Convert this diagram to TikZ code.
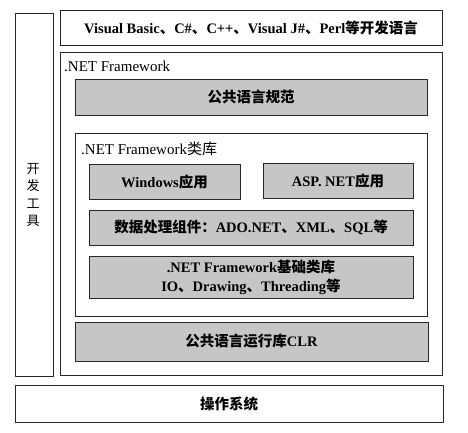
\documentclass[tikz,border=0pt]{standalone}
\usepackage{fontspec}
\setmainfont{Liberation Serif}
\newfontfamily\zhfont{Noto Sans CJK SC}
\newcommand{\zhs}[1]{{\zhfont #1}}
\definecolor{boxgray}{RGB}{198,198,198}
\definecolor{linecol}{RGB}{40,40,40}
\begin{document}
\begin{tikzpicture}[x=1pt,y=-1pt,
  frame/.style={draw=linecol, line width=0.9pt, inner sep=0pt, fill=white},
  graybox/.style={draw=linecol, line width=0.9pt, inner sep=0pt, fill=boxgray},
  txt/.style={font=\fontsize{14.5}{19}\selectfont\bfseries},
  lbl/.style={font=\fontsize{15}{18}\selectfont, inner sep=0pt, anchor=north west}]
\useasboundingbox (0,0) rectangle (468,432);
% outer boxes
\node[frame, minimum width=38pt, minimum height=363pt] (dev) at (34,194.5) {};
\node[align=center, font=\fontsize{13}{17.5}\selectfont, inner sep=0pt] (devtxt) at (33,195) {\zhs{开}\\\zhs{发}\\\zhs{工}\\\zhs{具}};
\node[frame, minimum width=382pt, minimum height=35pt, txt] (lang) at (251,27.5)
  {Visual Basic\zhs{、}C\#\zhs{、}C++\zhs{、}Visual J\#\zhs{、}Perl\zhs{等开发语言}};
\node[frame, minimum width=382pt, minimum height=323pt] (fw) at (251,213.5) {};
\node[lbl] (fwlbl) at (64,61) {.NET Framework};
\node[graybox, minimum width=352pt, minimum height=36pt, txt] (cls) at (251,97) {\zhs{公共语言规范}};
\node[frame, minimum width=352pt, minimum height=183pt] (lib) at (251,224.5) {};
\node[lbl] (liblbl) at (81,142) {.NET Framework\zhs{类库}};
\node[graybox, minimum width=151pt, minimum height=35pt, txt] (win) at (164.5,181.5) {Windows\zhs{应用}};
\node[graybox, minimum width=150pt, minimum height=35pt, txt] (asp) at (338,180.5) {ASP. NET\zhs{应用}};
\node[graybox, minimum width=324pt, minimum height=35pt, txt] (data) at (251,227.5)
  {\zhs{数据处理组件：}ADO.NET\zhs{、}XML\zhs{、}SQL\zhs{等}};
\node[graybox, minimum width=324pt, minimum height=42pt, txt, align=center] (base) at (251,277)
  {.NET Framework\zhs{基础类库}\\IO\zhs{、}Drawing\zhs{、}Threading\zhs{等}};
\node[graybox, minimum width=353pt, minimum height=39pt, txt] (clr) at (251.5,341.5) {\zhs{公共语言运行库}CLR};
\node[frame, minimum width=428pt, minimum height=37pt, txt] (os) at (229,403.5) {\zhs{操作系统}};
\end{tikzpicture}
\end{document}
